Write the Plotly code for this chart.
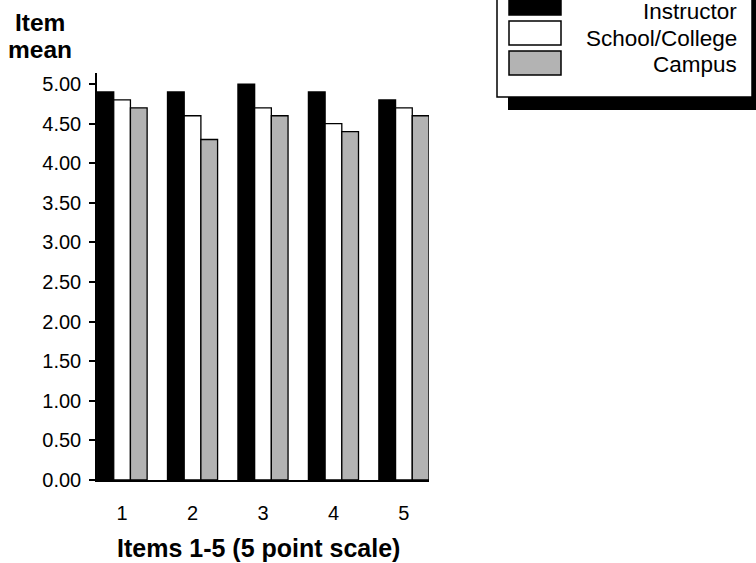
import plotly.graph_objects as go

items = [1, 2, 3, 4, 5]
series_names = ["Instructor", "School/College", "Campus"]
instructor = [4.9, 4.9, 5.0, 4.9, 4.8]
school_college = [4.8, 4.6, 4.7, 4.5, 4.7]
campus = [4.7, 4.3, 4.6, 4.4, 4.6]
y_ticks = [0, 0.5, 1, 1.5, 2, 2.5, 3, 3.5, 4, 4.5, 5]

colors = ["#000000", "#ffffff", "#b3b3b3"]
values = [instructor, school_college, campus]

W, H = 756, 563
# plot area in screen pixels
L, R, T, B = 97, 429, 73, 480.5


def px(x):
    return (x - L) / (R - L)


def py(y):
    return (B - y) / (B - T)


fig = go.Figure()
for name, vals, col in zip(series_names, values, colors):
    fig.add_trace(go.Bar(
        x=items, y=vals, name=name,
        marker=dict(color=col, line=dict(color="#000000", width=1.3)),
        showlegend=False,
    ))

font_family = "Liberation Sans, Arial, Helvetica, sans-serif"

shapes = []
annotations = []
# custom legend: shadow + box
shapes.append(dict(type="rect", xref="paper", yref="paper",
                   x0=px(508), x1=px(790), y0=py(110), y1=py(-20),
                   fillcolor="#000000", line=dict(width=0), layer="above"))
shapes.append(dict(type="rect", xref="paper", yref="paper",
                   x0=px(497), x1=px(752), y0=py(97), y1=py(-30),
                   fillcolor="#ffffff", line=dict(color="#000000", width=1.5), layer="above"))
sw_tops = [-9, 21, 51]
text_mid = [11, 38, 64]
for i, (name, col) in enumerate(zip(series_names, colors)):
    t = sw_tops[i]
    shapes.append(dict(type="rect", xref="paper", yref="paper",
                       x0=px(509), x1=px(561), y0=py(t + 24), y1=py(t),
                       fillcolor=col, line=dict(color="#000000", width=1.5), layer="above"))
    annotations.append(dict(text=name, xref="paper", yref="paper",
                            x=px(739), y=py(text_mid[i]), xanchor="right", yanchor="middle",
                            showarrow=False, font=dict(size=22.5, color="#000000", family=font_family)))

annotations.append(dict(text="<b>Item</b>", xref="paper", yref="paper",
                        x=px(40), y=py(22), xanchor="center", yanchor="middle",
                        showarrow=False, font=dict(size=24.5, color="#000000", family=font_family)))
annotations.append(dict(text="<b>mean</b>", xref="paper", yref="paper",
                        x=px(40), y=py(49), xanchor="center", yanchor="middle",
                        showarrow=False, font=dict(size=24.5, color="#000000", family=font_family)))
annotations.append(dict(text="<b>Items 1-5 (5 point scale)</b>", xref="paper", yref="paper",
                        x=px(258), y=py(549), xanchor="center", yanchor="middle",
                        showarrow=False, font=dict(size=25, color="#000000", family=font_family)))

fig.update_layout(
    width=W, height=H,
    margin=dict(l=L, r=W - R, t=T, b=H - B, pad=0),
    paper_bgcolor="#ffffff", plot_bgcolor="#ffffff",
    barmode="group", bargap=0.289, bargroupgap=0,
    font=dict(family=font_family, size=20, color="#000000"),
    shapes=shapes, annotations=annotations,
    xaxis=dict(range=[0.644, 5.356], tickvals=items, ticktext=[str(i) for i in items],
               showline=True, linecolor="#000000", linewidth=1.5, ticks="",
               showgrid=False, zeroline=False, ticklabelstandoff=14,
               tickfont=dict(size=20)),
    yaxis=dict(range=[0, 5.14], tickvals=y_ticks, tickformat=".2f",
               showline=True, linecolor="#000000", linewidth=1.5,
               ticks="outside", ticklen=6, tickwidth=1.5, tickcolor="#000000",
               showgrid=False, zeroline=False, ticklabelstandoff=4,
               tickfont=dict(size=20)),
)

fig.write_html("out.html",
               config={"displayModeBar": False},
               post_script="document.body.style.margin='0px';document.body.style.overflow='hidden';")
